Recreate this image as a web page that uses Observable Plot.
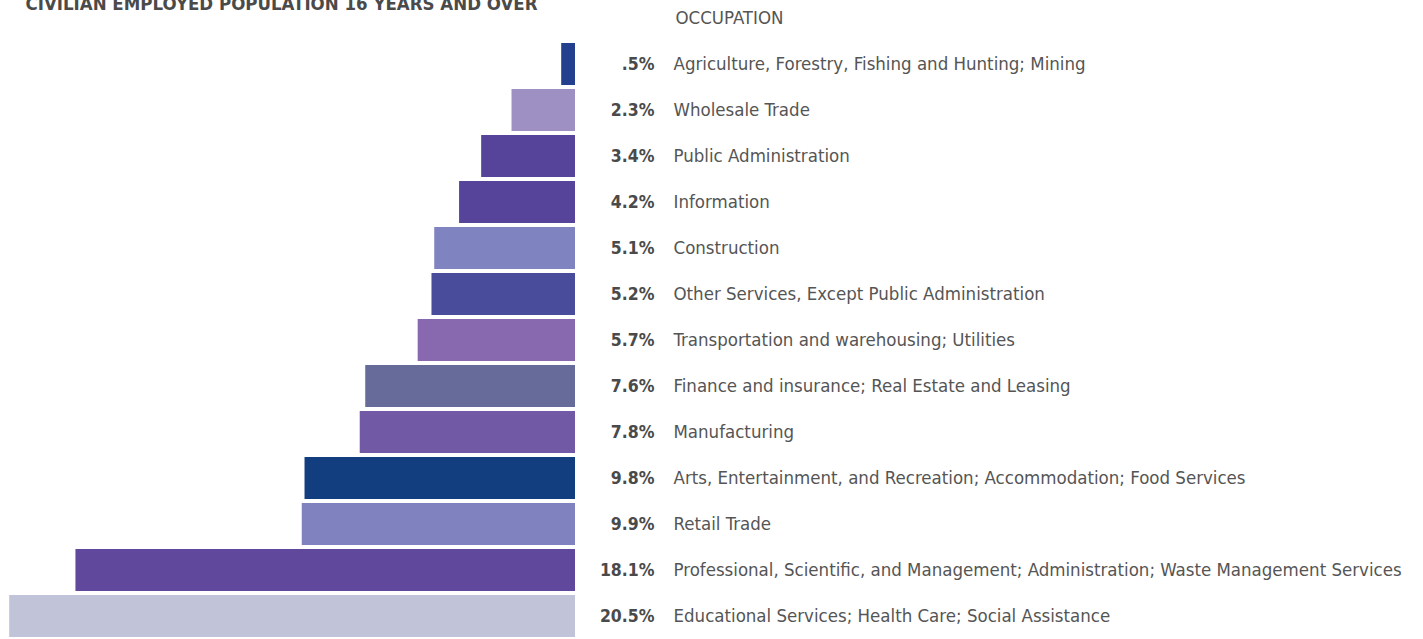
<!DOCTYPE html>
<html>
<head>
<meta charset="utf-8">
<script src="https://cdn.jsdelivr.net/npm/d3@7"></script>
<script src="https://cdn.jsdelivr.net/npm/@observablehq/plot@0.6"></script>
<style>
  html, body { margin: 0; padding: 0; background: #fff; }
  #chart svg { display: block; }
</style>
</head>
<body>
<div id="chart"></div>
<script>
const title = "CIVILIAN EMPLOYED POPULATION 16 YEARS AND OVER";
const header = "OCCUPATION";
const categories = [
  "Agriculture, Forestry, Fishing and Hunting; Mining",
  "Wholesale Trade",
  "Public Administration",
  "Information",
  "Construction",
  "Other Services, Except Public Administration",
  "Transportation and warehousing; Utilities",
  "Finance and insurance; Real Estate and Leasing",
  "Manufacturing",
  "Arts, Entertainment, and Recreation; Accommodation; Food Services",
  "Retail Trade",
  "Professional, Scientific, and Management; Administration; Waste Management Services",
  "Educational Services; Health Care; Social Assistance"
];
const values = [0.5, 2.3, 3.4, 4.2, 5.1, 5.2, 5.7, 7.6, 7.8, 9.8, 9.9, 18.1, 20.5];
const barColors = [
  "#253f8f", "#9f90c4", "#56439a", "#56439a", "#7f83c0", "#494b9b", "#8868ae",
  "#666b9a", "#7259a6", "#123e80", "#7f82bf", "#60489d", "#c1c3d9"
];

const data = categories.map((c, i) => ({category: c, value: values[i]}));
const fmt = v => String(v).replace(/^0\./, ".") + "%";
const FONT = "'DejaVu Sans Condensed', 'Liberation Sans Narrow', 'Arial Narrow', sans-serif";

const chart = Plot.plot({
  width: 1423,
  height: 639,
  margin: 0,
  style: {fontFamily: FONT, background: "#fff"},
  x: {domain: [0, 20.5], range: [575, 9.2], axis: null},
  y: {domain: categories, range: [37.7, 642.6], padding: 0.097, axis: null},
  color: {domain: categories, range: barColors},
  marks: [
    Plot.barX(data, {x1: 0, x2: "value", y: "category", fill: "category"}),
    Plot.text(data, {
      x: () => 0, y: "category", text: d => fmt(d.value),
      dx: 79, textAnchor: "end", fontWeight: "bold", fontSize: 17.5, fill: "#4a4a4a"
    }),
    Plot.text(data, {
      x: () => 0, y: "category", text: "category",
      dx: 98, textAnchor: "start", fontSize: 18.5, fill: "#555555"
    }),
    Plot.text([title], {
      frameAnchor: "top-left", dx: 25, dy: 9, lineAnchor: "bottom",
      textAnchor: "start", fontWeight: "bold", fontSize: 18.5, fill: "#4a4a4a"
    }),
    Plot.text([header], {
      frameAnchor: "top-left", dx: 675, dy: 18, lineAnchor: "middle",
      textAnchor: "start", fontSize: 18.5, fill: "#555555"
    })
  ]
});
document.getElementById("chart").appendChild(chart);
</script>
</body>
</html>
